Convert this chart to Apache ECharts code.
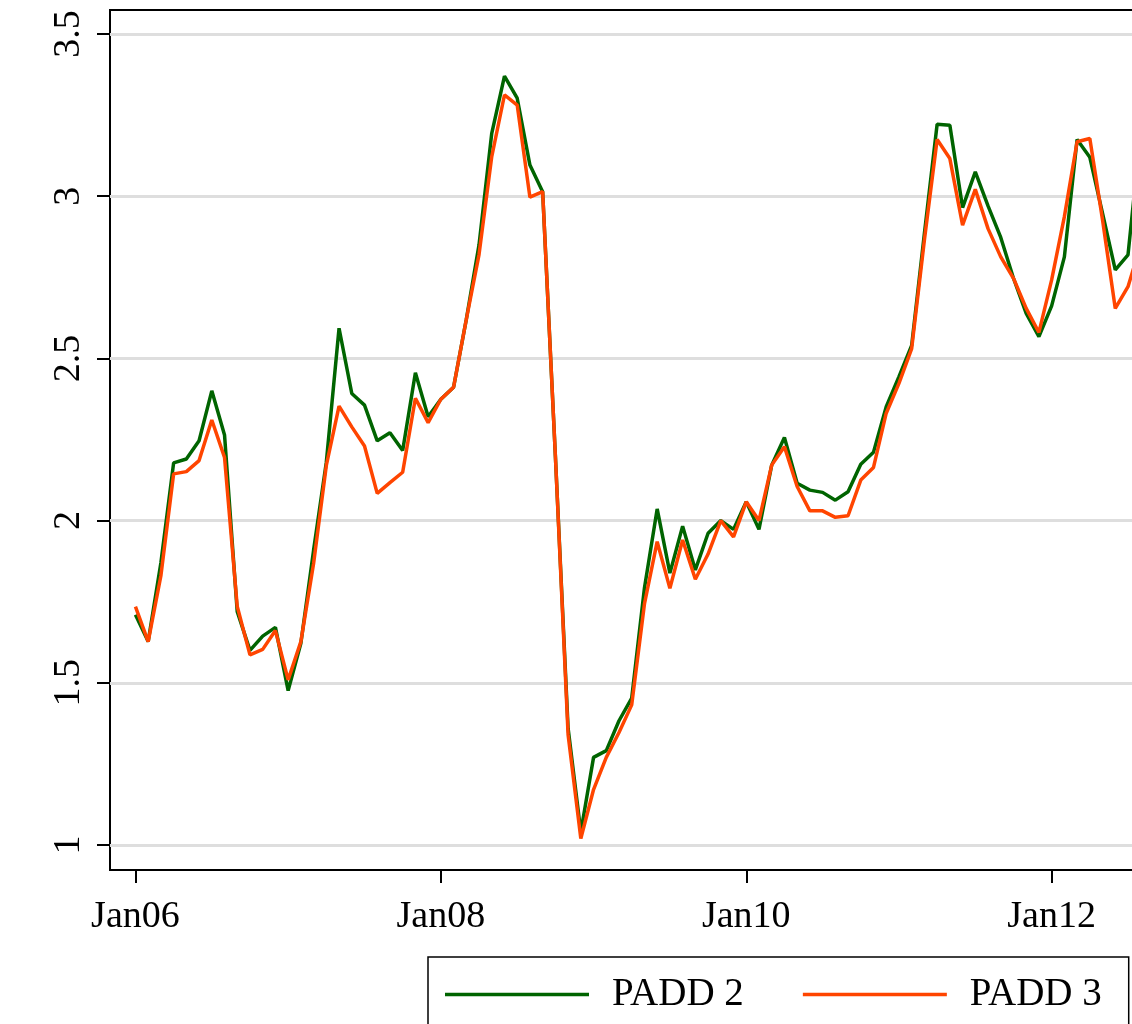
<!DOCTYPE html>
<html>
<head>
<meta charset="utf-8">
<script src="https://cdn.jsdelivr.net/npm/echarts@6/dist/echarts.min.js"></script>
<style>
html,body{margin:0;padding:0;background:#fff;overflow:hidden;}
#chart{width:1132px;height:1024px;}
</style>
</head>
<body>
<div id="chart"></div>
<script>
// Monthly series, Jan 2006 onward
const startYear = 2006;
const padd2 = [1.71,1.627,1.87,2.178,2.19,2.246,2.40,2.264,1.719,1.60,1.644,1.671,
  1.476,1.622,1.909,2.18,2.593,2.392,2.356,2.246,2.271,2.216,2.456,2.32,
  2.374,2.411,2.62,2.85,3.194,3.37,3.302,3.096,3.014,2.2,1.36,1.04,
  1.27,1.291,1.383,1.453,1.792,2.036,1.838,1.983,1.848,1.961,2.0,1.973,
  2.058,1.973,2.171,2.256,2.115,2.094,2.087,2.063,2.089,2.174,2.211,2.351,
  2.444,2.54,2.885,3.222,3.219,2.965,3.075,2.97,2.873,2.747,2.639,2.567,
  2.662,2.813,3.175,3.12,2.947,2.773,2.819,3.2];
const padd3 = [1.735,1.627,1.83,2.144,2.151,2.185,2.31,2.195,1.735,1.586,1.603,1.661,
  1.509,1.627,1.868,2.17,2.353,2.289,2.23,2.084,2.117,2.149,2.377,2.302,
  2.374,2.411,2.62,2.82,3.122,3.312,3.281,2.997,3.014,2.2,1.34,1.02,
  1.171,1.27,1.347,1.432,1.743,1.935,1.791,1.94,1.819,1.897,2.0,1.95,
  2.058,2.0,2.171,2.228,2.105,2.03,2.03,2.01,2.015,2.125,2.164,2.331,
  2.423,2.53,2.865,3.175,3.116,2.911,3.021,2.90,2.813,2.747,2.654,2.58,
  2.742,2.937,3.168,3.178,2.927,2.654,2.721,2.85];
const xTickLabels = ['Jan06','Jan08','Jan10','Jan12'];
const yTickLabels = ['1','1.5','2','2.5','3','3.5'];
const seriesNames = ['PADD 2','PADD 3'];
const colors = ['#006400','#FF4500'];

const padBefore = 2, padAfter = 2;
const monthNames = ['Jan','Feb','Mar','Apr','May','Jun','Jul','Aug','Sep','Oct','Nov','Dec'];
const categories = [];
for (let k = -padBefore; k < padd2.length + padAfter; k++) {
  const y = startYear + Math.floor(k / 12);
  const m = ((k % 12) + 12) % 12;
  categories.push(monthNames[m] + String(y % 100).padStart(2, '0'));
}
const pad = (arr) => Array(padBefore).fill(null).concat(arr, Array(padAfter).fill(null));

const FONT = 'Liberation Serif';
const band = 12.725;
const gridLeft = 110;
const gridWidth = (categories.length - 1) * band;

const chart = echarts.init(document.getElementById('chart'), null, {renderer: 'canvas'});
chart.setOption({
  animation: false,
  backgroundColor: '#fff',
  textStyle: {fontFamily: FONT},
  grid: [
    {left: gridLeft, top: 10, width: gridWidth, height: 860, show: true, outerBoundsMode: 'none',
     borderColor: '#000', borderWidth: 2, backgroundColor: 'transparent', containLabel: false},
    {left: gridLeft, top: 34, width: gridWidth, height: 811, outerBoundsMode: 'none', containLabel: false}
  ],
  xAxis: [
    {gridIndex: 0, type: 'category', data: categories, boundaryGap: false,
     axisLine: {show: true, lineStyle: {color: '#000', width: 2}},
     axisTick: {show: true, length: 13, lineStyle: {color: '#000', width: 2},
       interval: (i, v) => xTickLabels.includes(v)},
     axisLabel: {show: true, interval: (i, v) => xTickLabels.includes(v),
       color: '#000', fontFamily: FONT, fontSize: 38, margin: 28},
     splitLine: {show: false}},
    {gridIndex: 1, type: 'category', data: categories, boundaryGap: false, show: false}
  ],
  yAxis: [
    {gridIndex: 0, type: 'value', show: false, min: 0, max: 1, splitLine: {show: false}},
    {gridIndex: 1, type: 'value', min: 1, max: 3.5, interval: 0.5,
     axisLine: {show: false},
     axisTick: {show: true, length: 13, lineStyle: {color: '#000', width: 2}},
     axisLabel: {show: true, rotate: 90, color: '#000', fontFamily: FONT, fontSize: 38, margin: 22,
       formatter: (v) => { const s = String(Math.round(v * 10) / 10); return yTickLabels.includes(s) ? s : ''; }},
     splitLine: {show: true, lineStyle: {color: '#dedede', width: 3}}}
  ],
  legend: {
    show: true, orient: 'horizontal', left: 428, top: 957,
    borderColor: '#000', borderWidth: 1.5, borderRadius: 0,
    padding: [18, 27, 30, 17],
    icon: 'rect',
    itemWidth: 144, itemHeight: 3.5, itemGap: 59,
    textStyle: {color: '#000', fontFamily: FONT, fontSize: 39, padding: [0, 0, 0, 18]},
    data: seriesNames
  },
  series: seriesNames.map((name, idx) => ({
    name: name, type: 'line', xAxisIndex: 1, yAxisIndex: 1,
    data: pad(idx === 0 ? padd2 : padd3),
    showSymbol: false, symbol: 'none', smooth: false,
    lineStyle: {color: colors[idx], width: 3.5},
    itemStyle: {color: colors[idx]},
    z: idx === 0 ? 2 : 3
  }))
});
</script>
</body>
</html>
